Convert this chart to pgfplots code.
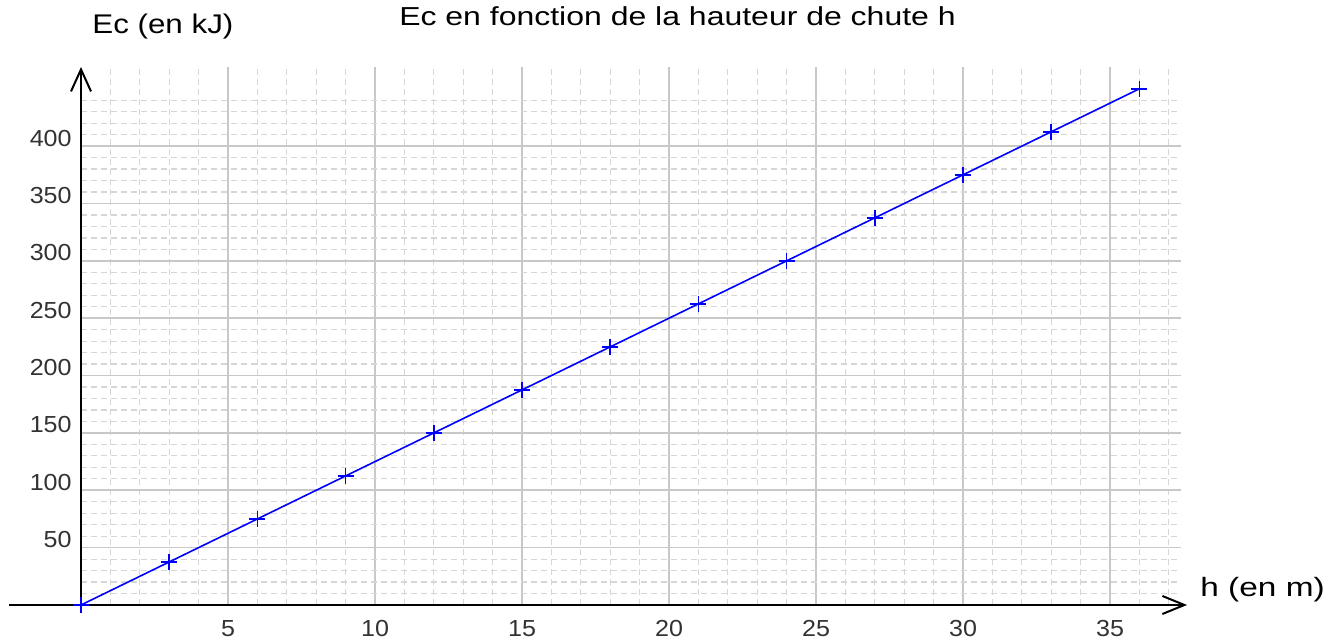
\documentclass[border=0pt]{standalone}
\usepackage{fontspec}
\usepackage{pgfplots}
\pgfplotsset{compat=1.18}
\usetikzlibrary{arrows.meta}
\setmainfont{Liberation Sans}
\newfontfamily\tickfont[FakeStretch=1.08]{Liberation Sans}
\newfontfamily\titlefont[FakeStretch=1.23]{Liberation Sans}
\newfontfamily\ylabfont[FakeStretch=1.16]{Liberation Sans}
\newfontfamily\xlabfont[FakeStretch=1.26]{Liberation Sans}
\definecolor{majgrid}{RGB}{200,200,200}
\definecolor{mingrid}{RGB}{214,214,214}
\definecolor{ticktext}{RGB}{50,50,50}
\begin{document}
\begin{tikzpicture}
\path (-40.5pt,-18pt) rectangle (624.5pt,302.5pt);
\begin{axis}[
  at={(0,0)}, anchor=south west,
  scale only axis,
  width=549.8pt, height=269pt,
  xmin=0, xmax=37.4, ymin=0, ymax=469,
  axis line style={draw=none},
  major tick length=0pt, minor tick length=0pt,
  xtick={5,10,...,35},
  ytick={50,100,...,400},
  minor xtick={1,2,...,37},
  minor ytick={10,20,...,440},
  grid=both,
  major grid style={draw=majgrid, line width=0.8pt},
  minor grid style={draw=mingrid, line width=0.6pt, dash pattern=on 3pt off 2pt},
  /pgf/number format/assume math mode=true,
  ticklabel style={font=\tickfont\fontsize{11.6pt}{13pt}\selectfont, text=ticktext},
  xticklabel style={anchor=base, inner sep=0pt, yshift=-16pt},
  yticklabel style={anchor=base east, inner sep=0pt, xshift=-4.5pt},
  clip=false,
]
\addplot[blue, line width=0.8pt, mark=+, mark size=4pt, mark options={line width=0.8pt}]
coordinates {(0,0) (3,37.5) (6,75) (9,112.5) (12,150) (15,187.5) (18,225) (21,262.5) (24,300) (27,337.5) (30,375) (33,412.5) (36,450)};
\draw[line width=1pt, -{Straight Barb[length=11pt,width=9pt]}] (axis cs:-2.45,0) -- (axis cs:37.62,0);
\draw[line width=1pt, -{Straight Barb[length=11pt,width=10pt]}] (axis cs:0,0) -- (axis cs:0,469);
\end{axis}
\node[anchor=base, inner sep=0pt, font=\titlefont\fontsize{13pt}{15pt}\selectfont] at (298.25pt,289.5pt) {Ec en fonction de la hauteur de chute h};
\node[anchor=base west, inner sep=0pt, font=\ylabfont\fontsize{13.5pt}{15pt}\selectfont] at (5.5pt,285.5pt) {Ec (en kJ)};
\node[anchor=base west, inner sep=0pt, font=\xlabfont\fontsize{13.25pt}{15pt}\selectfont] at (559.5pt,4pt) {h (en m)};
\end{tikzpicture}
\end{document}
